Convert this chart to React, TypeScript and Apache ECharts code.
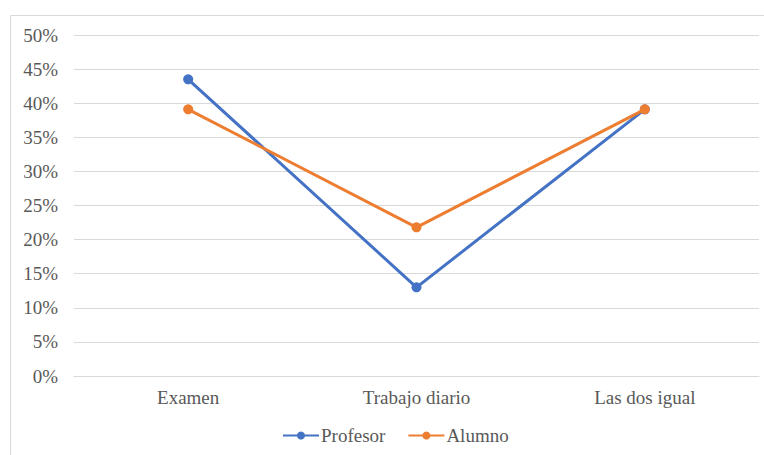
import React, { useEffect, useRef } from "react";
import * as echarts from "echarts";

const categories = ["Examen", "Trabajo diario", "Las dos igual"];
const profesor = [43.5, 13.0, 39.1];
const alumno = [39.1, 21.8, 39.1];
const yTicks = { min: 0, max: 50, interval: 5 };

const FONT = "'Times New Roman', 'Liberation Serif', 'DejaVu Serif', serif";
const TEXT = "#595959";
const SIZE = 19;

export default function App() {
  const ref = useRef<HTMLDivElement>(null);

  useEffect(() => {
    document.body.style.margin = "0";
    const chart = echarts.init(ref.current!, null, { renderer: "svg" });
    chart.setOption({
      animation: false,
      backgroundColor: "#ffffff",
      textStyle: { fontFamily: FONT },
      graphic: [
        {
          type: "rect",
          shape: { x: 10.5, y: 15.5, width: 800, height: 500 },
          style: { fill: "none", stroke: "#d9d9d9", lineWidth: 1 },
          silent: true,
        },
      ],
      grid: { left: 74, right: 5, top: 35, bottom: 79, containLabel: false },
      xAxis: {
        type: "category",
        data: categories,
        boundaryGap: true,
        axisLine: { show: true, lineStyle: { color: "#d9d9d9", width: 1 } },
        axisTick: { show: false },
        axisLabel: { color: TEXT, fontFamily: FONT, fontSize: SIZE, margin: 12 },
      },
      yAxis: {
        type: "value",
        min: yTicks.min,
        max: yTicks.max,
        interval: yTicks.interval,
        axisLine: { show: false },
        axisTick: { show: false },
        axisLabel: {
          color: TEXT,
          fontFamily: FONT,
          fontSize: SIZE,
          margin: 16,
          formatter: (v: number) => `${v}%`,
        },
        splitLine: { lineStyle: { color: "#d9d9d9", width: 1 } },
      },
      legend: {
        bottom: 5,
        left: 277,
        itemWidth: 36,
        itemHeight: 10,
        itemGap: 22,
        textStyle: { color: TEXT, fontFamily: FONT, fontSize: SIZE, padding: [0, 0, 0, -3] },
        data: ["Profesor", "Alumno"],
      },
      series: [
        {
          name: "Profesor",
          type: "line",
          data: profesor,
          symbol: "circle",
          symbolSize: 10,
          lineStyle: { color: "#4472c4", width: 3 },
          itemStyle: { color: "#4472c4" },
          z: 2,
        },
        {
          name: "Alumno",
          type: "line",
          data: alumno,
          symbol: "circle",
          symbolSize: 10,
          lineStyle: { color: "#ed7d31", width: 3 },
          itemStyle: { color: "#ed7d31" },
          z: 3,
        },
      ],
    });
    return () => chart.dispose();
  }, []);

  return <div ref={ref} style={{ width: 764, height: 455 }} />;
}
